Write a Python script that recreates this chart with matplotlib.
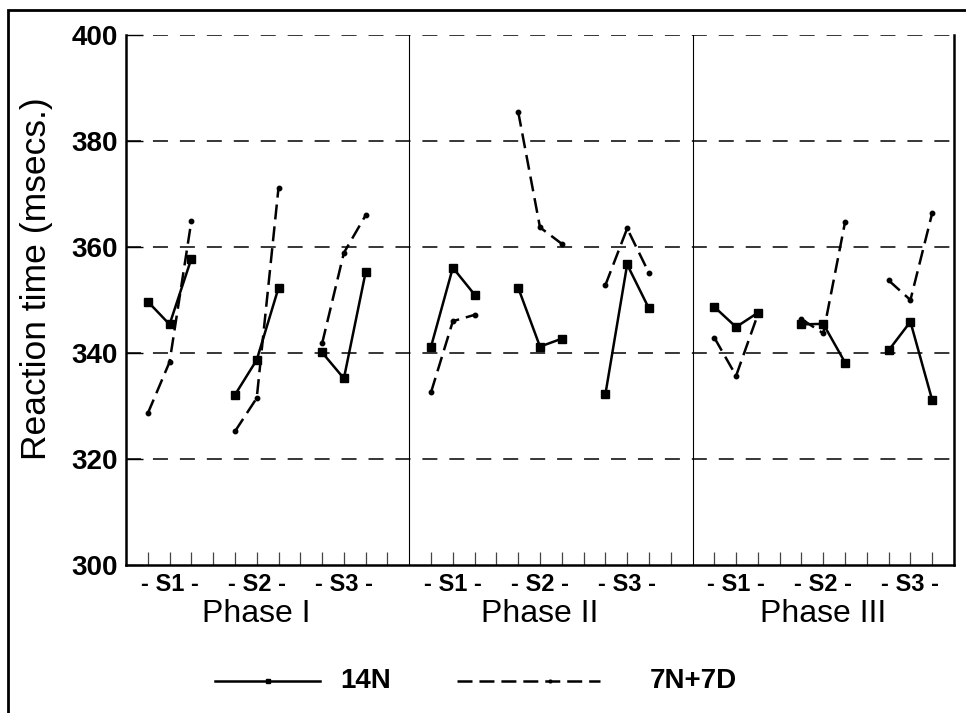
import numpy as np
import matplotlib
matplotlib.use('Agg')
import matplotlib.pyplot as plt
from matplotlib.patches import Rectangle
from matplotlib.lines import Line2D

plt.rcParams['font.family'] = ['Liberation Sans', 'DejaVu Sans']
plt.rcParams['lines.scale_dashes'] = False

# -=-=-=-=-=-=-=-=-=-=- data -=-=-=-=-=-=-=-=-=-=- #

phases = ['Phase I', 'Phase II', 'Phase III']
sessions = ['- S1 -', '- S2 -', '- S3 -']
series = ['14N', '7N+7D']

# 14N (solid), one row per session, three blocks each
n14_p1 = [[349.7, 345.4, 357.8], [332.1, 338.7, 352.3], [340.1, 335.2, 355.3]]
n14_p2 = [[341.2, 356.1, 351.0], [352.3, 341.2, 342.7], [332.2, 356.7, 348.4]]
n14_p3 = [[348.7, 344.9, 347.6], [345.4, 345.5, 338.2], [340.5, 345.9, 331.1]]

# 7N+7D (dashed)
mix_p1 = [[328.6, 338.3, 364.9], [325.2, 331.5, 371.2], [341.8, 358.9, 366.0]]
mix_p2 = [[332.6, 346.0, 347.2], [385.5, 363.7, 360.6], [352.8, 363.5, 355.1]]
mix_p3 = [[342.9, 335.7, 347.3], [346.4, 343.7, 364.7], [353.7, 350.0, 366.4]]

n14 = [n14_p1, n14_p2, n14_p3]
mix = [mix_p1, mix_p2, mix_p3]

yticks = [300, 320, 340, 360, 380, 400]

# -=-=-=-=-=-=-=-=-=-=- layout -=-=-=-=-=-=-=-=-=-=- #

phase_start = [0, 13, 26]
phase_end = 38

solid = dict(color='black', linewidth=1.8)
dashed = dict(color='black', linewidth=1.8, linestyle=(0, (10.8, 5)))

fig = plt.figure(figsize=(9.66, 7.13), dpi=100)
ax = fig.add_axes([126 / 966, 1 - 565 / 713, (954 - 126) / 966, (565 - 35) / 713])

# outer frame, cut off at right and bottom
fig.patches.append(Rectangle((8 / 966, -0.2), 1.2, 1.2 - 10 / 713,
                             transform=fig.transFigure, fill=False,
                             edgecolor='black', linewidth=2.0, clip_on=False))

for y in yticks[1:]:
    ax.axhline(y, color='black', linewidth=1.1, linestyle=(0, (10.8, 8.6)), zorder=1)

for d in phase_start[1:]:
    ax.axvline(d, color='black', linewidth=0.8, zorder=1)

for p in range(3):
    for s in range(3):
        xs = [phase_start[p] + 1 + 4 * s + b for b in range(3)]
        ax.plot(xs, n14[p][s], marker='s', markersize=5.5, zorder=3, **solid)
        ax.plot(xs, mix[p][s], marker='o', markersize=3.2, zorder=3, **dashed)

ax.set_xlim(0, phase_end)
ax.set_ylim(300, 400)

xt = [i for i in range(1, phase_end) if i not in phase_start]
ax.set_xticks(xt)
ax.set_xticklabels([])
ax.tick_params(axis='x', direction='in', length=9.5, width=0.9, color='#444444')

ax.set_yticks(yticks)
ax.set_yticklabels([str(v) for v in yticks], fontsize=20, fontweight='bold')
ax.tick_params(axis='y', direction='in', length=12, width=1.0, pad=6)

ax.spines['top'].set_visible(False)
for side in ['left', 'bottom', 'right']:
    ax.spines[side].set_linewidth(1.8)

trans = ax.get_xaxis_transform()
for p in range(3):
    for s in range(3):
        ax.text(phase_start[p] + 2 + 4 * s, -0.016, sessions[s], transform=trans,
                ha='center', va='top', fontsize=17, fontweight='bold')
    ax.text(phase_start[p] + 6, -0.064, phases[p], transform=trans,
            ha='center', va='top', fontsize=23)

fig.text(37 / 966, 1 - 279 / 713, 'Reaction time (msecs.)', rotation=90,
         ha='center', va='center', fontsize=25.5)

# legend drawn by hand to match the spacing of the original
ly = 1 - 681 / 713
fig.add_artist(Line2D([215 / 966, 320 / 966], [ly, ly], transform=fig.transFigure, **solid))
fig.add_artist(Line2D([268 / 966], [ly], transform=fig.transFigure, marker='s',
                      markersize=2.5, color='black', linestyle='none'))
fig.text(340 / 966, ly, series[0], ha='left', va='center', fontsize=20, fontweight='bold')
fig.add_artist(Line2D([457 / 966, 600 / 966], [ly, ly], transform=fig.transFigure, **dashed))
fig.add_artist(Line2D([550 / 966], [ly], transform=fig.transFigure, marker='o',
                      markersize=2, color='black', linestyle='none'))
fig.text(650 / 966, ly, series[1], ha='left', va='center', fontsize=20, fontweight='bold')

fig.savefig('out.png', dpi=100, facecolor='white')
